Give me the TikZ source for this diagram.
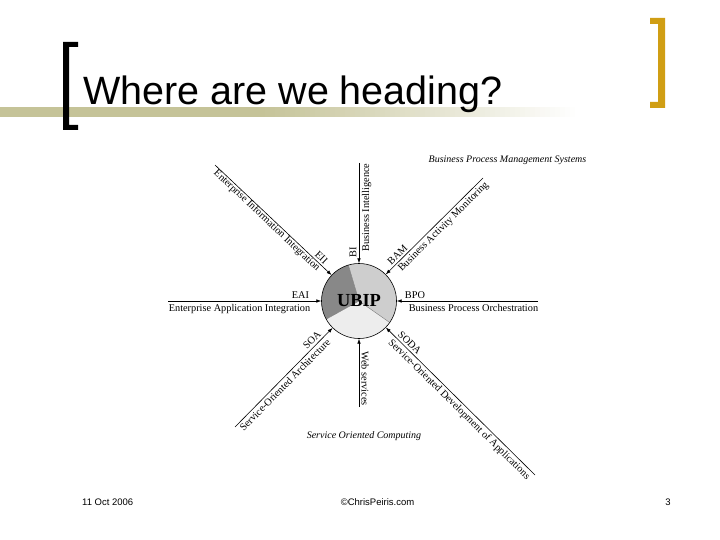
\documentclass[tikz,border=0pt]{standalone}
\usepackage{fontspec}
\setmainfont{Liberation Serif}
\newfontfamily\sansf{Liberation Sans}
\usetikzlibrary{arrows.meta,calc}
\definecolor{olivebar}{RGB}{197,195,152}
\definecolor{goldbr}{RGB}{208,158,20}
\definecolor{pieDark}{RGB}{136,136,136}
\definecolor{pieMid}{RGB}{206,206,206}
\definecolor{pieLight}{RGB}{237,237,237}
\begin{document}
\begin{tikzpicture}[x=1pt,y=-1pt,
  lbl/.style={font=\fontsize{10.3}{12}\selectfont, inner sep=0pt, anchor=base},
  ital/.style={font=\fontsize{10}{12}\selectfont\itshape, inner sep=0pt, anchor=base},
  arr/.style={line width=0.6pt, -{Latex[length=5pt,width=3.6pt]}},
  foot/.style={font=\sansf\fontsize{9.5}{11}\selectfont, inner sep=0pt},
  seg/.style={draw=black!55, line width=0.4pt}]
\useasboundingbox (0,0) rectangle (720,540);
\fill[white] (0,0) rectangle (720,540);
% header bar with fade
\fill[olivebar] (0,107) rectangle (261,117);
\foreach \i in {0,...,63}{
  \pgfmathsetmacro{\pc}{100-100*\i/63}
  \fill[olivebar!\pc!white] ({260+5*\i},107) rectangle ({266+5*\i},117);
}
\fill[black] (63,42) -- (78,42) -- (78,47) -- (69,47) -- (69,125) -- (78,125) -- (78,130) -- (63,130) -- cycle;
\fill[goldbr] (665,18) -- (650,18) -- (650,24) -- (658,24) -- (658,102) -- (650,102) -- (650,108) -- (665,108) -- cycle;
\node[font=\sansf\fontsize{39.5}{44}\selectfont, anchor=base west, inner sep=0pt] (title) at (83,105) {Where are we heading?};
% central pie
\node[circle, minimum size=75pt, inner sep=0pt] (ubip) at (359,301) {};
\fill[pieDark] (ubip.center) -- ++(106.5:37.5pt) arc[start angle=106.5, end angle=209, radius=37.5pt] -- cycle;
\fill[pieMid] (ubip.center) -- ++(-35:37.5pt) arc[start angle=-35, end angle=106.5, radius=37.5pt] -- cycle;
\fill[pieLight] (ubip.center) -- ++(209:37.5pt) arc[start angle=209, end angle=325, radius=37.5pt] -- cycle;
\draw[seg] (ubip.center) -- ++(106.5:37.5pt);
\draw[seg] (ubip.center) -- ++(209:37.5pt);
\draw[seg] (ubip.center) -- ++(-35:37.5pt);
\draw[line width=0.6pt] (ubip.center) circle[radius=37.5pt];
\node[font=\fontsize{18.4}{20}\selectfont\bfseries, anchor=base, inner sep=0pt] (ubiptxt) at (359,306.7) {UBIP};
% arrow start points
\coordinate (biS) at (359,163);
\coordinate (wsS) at (359,407);
\coordinate (eaiS) at (168,301);
\coordinate (bpoS) at (538,301);
\coordinate (eiiS) at (215,165);
\coordinate (bamS) at (483,178);
\coordinate (soaS) at (235,427);
\coordinate (sodaS) at (535,475);
\foreach \s in {biS,wsS,eaiS,bpoS,eiiS,bamS,soaS,sodaS}{\draw[arr] (\s) -- (ubip);}
% labels
\node[lbl, rotate=90] (biA) at (356.3,252) {BI};
\node[lbl, rotate=90] (biL) at (369,207.5) {Business Intelligence};
\node[lbl, rotate=-90] (wsL) at (361.5,378.5) {Web services};
\node[lbl] (eaiA) at (300.5,298.3) {EAI};
\node[lbl] (eaiL) at (239.5,311) {Enterprise Application Integration};
\node[lbl] (bpoA) at (415,298.3) {BPO};
\node[lbl] (bpoL) at (473.5,311) {Business Process Orchestration};
\node[lbl, rotate=-43.4] (eiiL) at (265,222.5) {Enterprise Information Integration};
\node[lbl, rotate=-43.4] (eiiA) at (319.2,260.1) {EII};
\node[lbl, rotate=44.8] (bamL) at (445.3,228.7) {Business Activity Monitoring};
\node[lbl, rotate=44.8] (bamA) at (399.8,256.9) {BAM};
\node[lbl, rotate=45.5] (soaL) at (287.4,387.4) {Service-Oriented Architecture};
\node[lbl, rotate=45.5] (soaA) at (314.4,342.6) {SOA};
\node[lbl, rotate=-44.7] (sodaL) at (457.2,411.5) {Service-Oriented Development of Applications};
\node[lbl, rotate=-44.7] (sodaA) at (407.4,345.3) {SODA};
\node[ital] (bpms) at (507.5,163) {Business Process Management Systems};
\node[ital] (soc) at (364,438.5) {Service Oriented Computing};
% footer
\node[foot, anchor=base west] (date) at (82,505) {11 Oct 2006};
\node[foot, anchor=base] (copy) at (377.5,505) {©ChrisPeiris.com};
\node[foot, anchor=base] (pg) at (668,505) {3};
\end{tikzpicture}
\end{document}
